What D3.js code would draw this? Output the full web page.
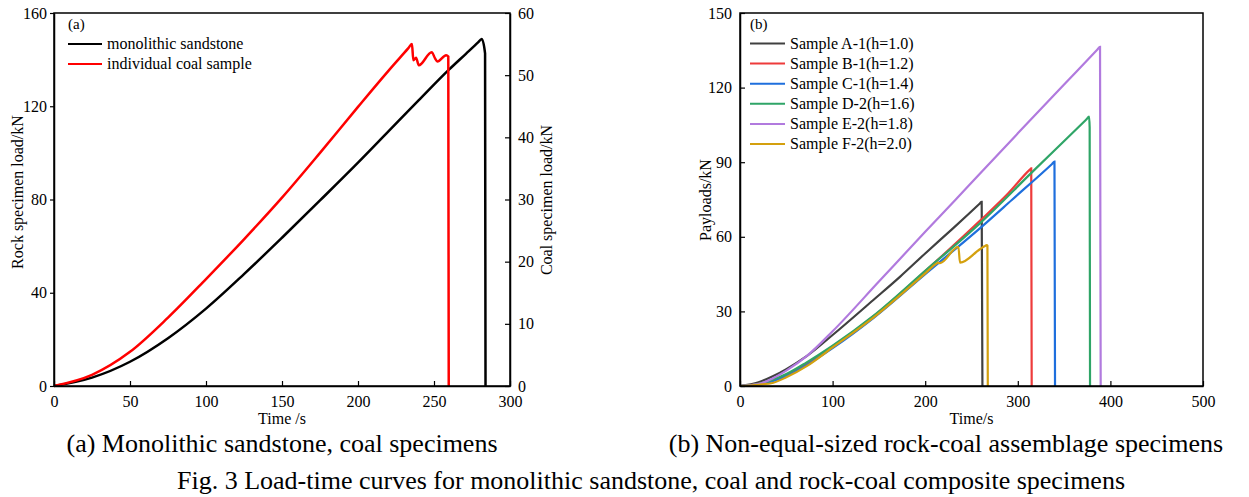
<!DOCTYPE html>
<html>
<head>
<meta charset="utf-8">
<script src="https://cdn.jsdelivr.net/npm/d3@7"></script>
<style>
  body { margin: 0; background: #fff; }
  text { font-family: "Liberation Serif", "Times New Roman", serif; fill: #000; }
</style>
</head>
<body>
<svg id="chart" width="1249" height="497"></svg>
<script>
// ---- data ----

// (a) monolithic sandstone, left axis (kN)
var sandTime = [0, 25, 50, 75, 100, 125, 150, 175, 200, 220, 240, 260, 271, 279, 281.4, 283.6, 283.9];
var sandLoad = [0, 3.6, 10.4, 20.5, 33.2, 48, 63.6, 79.6, 95.8, 109.2, 122.6, 135.8, 142.5, 147.4, 148.9, 142.7, 0];

// (a) individual coal sample, right axis (kN)
var coalTime = [0, 25, 50, 75, 100, 125, 150, 175, 200, 220, 233, 235.5, 236.4, 238.2, 240, 248.5, 250.7, 252.2, 258, 259.4, 259.7];
var coalLoad = [0, 1.8, 5.5, 11, 17.2, 23.6, 30.3, 37.5, 44.9, 50.7, 54.3, 55, 52.4, 52.8, 51.6, 53.7, 52.7, 52.2, 53.2, 53, 0];

// (b) rock-coal assemblages
var sampleNames = ["Sample A-1(h=1.0)", "Sample B-1(h=1.2)", "Sample C-1(h=1.4)",
                   "Sample D-2(h=1.6)", "Sample E-2(h=1.8)", "Sample F-2(h=2.0)"];

var timeA = [0, 20, 36, 50, 72, 100, 144, 173, 200, 230, 259, 261, 261.8];
var loadA = [0, 1.5, 4, 6.8, 12, 20.5, 34.6, 44, 53.3, 63.4, 73.4, 74.1, 0];

var timeB = [0, 20, 36, 50, 72, 100, 144, 200, 259, 290, 313, 314.5, 315];
var loadB = [0, 0.9, 2.4, 4.4, 8.8, 15.8, 28, 46.2, 66.4, 77.6, 87, 87.5, 0];

var timeC = [0, 20, 36, 50, 72, 100, 144, 200, 259, 293.5, 337, 339.6, 340.2];
var loadC = [0, 0.7, 2, 4, 8.4, 15.2, 27.3, 45, 63.4, 74.8, 89.3, 90.2, 0];

var timeD = [0, 20, 36, 50, 72, 100, 144, 200, 259, 316, 374, 377, 377.6, 378];
var loadD = [0, 0.9, 2.6, 4.8, 9.5, 16.2, 28.2, 46.3, 65.4, 86.2, 107.2, 108.3, 104, 0];

var timeE = [0, 20, 36, 50, 72, 100, 150, 200, 232, 259, 300, 350, 386, 388.8, 389.5];
var loadE = [0, 0.8, 3.2, 6.2, 12, 22, 42, 62, 74.6, 85.4, 101.6, 121.2, 135.3, 136.4, 0];

var timeF = [0, 20, 36, 50, 72, 100, 144, 200, 212, 214, 216, 235.8, 237.6, 259, 264, 266.5, 267.2, 267.6];
var loadF = [0, 0.5, 1.3, 3.5, 8, 15.5, 27.5, 45.3, 49.2, 49.6, 49.4, 56, 49.6, 55, 56.2, 56.7, 56.5, 0];

var sampleTimes = [timeA, timeB, timeC, timeD, timeE, timeF];
var sampleLoads = [loadA, loadB, loadC, loadD, loadE, loadF];
var sampleColors = ["#404040", "#ee3b3b", "#1f6fdd", "#2fa567", "#b17ade", "#d4a00e"];

// tick labels
var ticksTimeA = [0, 50, 100, 150, 200, 250, 300];
var ticksRock = [0, 40, 80, 120, 160];
var ticksCoal = [0, 10, 20, 30, 40, 50, 60];
var ticksTimeB = [0, 100, 200, 300, 400, 500];
var ticksPay = [0, 30, 60, 90, 120, 150];

var svg = d3.select("#chart");
svg.append("rect").attr("width", 1249).attr("height", 497).attr("fill", "#fff");

function zip(ts, vs) {
    return ts.map(function(t, i) { return { t: t, v: vs[i] }; });
}

// ================= panel (a) =================
var pa = { left: 54, top: 13, width: 456, height: 373 };
var ga = svg.append("g").attr("transform", "translate(" + pa.left + "," + pa.top + ")");

var xA = d3.scaleLinear().domain([0, 300]).range([0, pa.width]);
var yRock = d3.scaleLinear().domain([0, 160]).range([pa.height, 0]);
var yCoal = d3.scaleLinear().domain([0, 60]).range([pa.height, 0]);

var lineRock = d3.line().curve(d3.curveMonotoneX)
    .x(function(d) { return xA(d.t); })
    .y(function(d) { return yRock(d.v); });
var lineCoal = d3.line().curve(d3.curveMonotoneX)
    .x(function(d) { return xA(d.t); })
    .y(function(d) { return yCoal(d.v); });

ga.append("path")
    .datum(zip(sandTime, sandLoad))
    .attr("d", lineRock)
    .attr("fill", "none")
    .attr("stroke", "#000")
    .attr("stroke-width", 2.5);

ga.append("path")
    .datum(zip(coalTime, coalLoad))
    .attr("d", lineCoal)
    .attr("fill", "none")
    .attr("stroke", "#ff0000")
    .attr("stroke-width", 2.5);

// axes
ga.append("g")
    .attr("transform", "translate(0," + pa.height + ")")
    .call(d3.axisBottom(xA).tickValues(ticksTimeA).tickSize(-5).tickSizeOuter(0).tickPadding(10));
ga.append("g")
    .call(d3.axisLeft(yRock).tickValues(ticksRock).tickSize(4).tickSizeOuter(0).tickPadding(3));
ga.append("g")
    .attr("transform", "translate(" + pa.width + ",0)")
    .call(d3.axisRight(yCoal).tickValues(ticksCoal).tickSize(-5).tickSizeOuter(0).tickPadding(8));

// frame
ga.append("rect")
    .attr("width", pa.width).attr("height", pa.height)
    .attr("fill", "none").attr("stroke", "#000").attr("stroke-width", 1.5);

// axis titles
ga.append("text")
    .attr("x", pa.width / 2).attr("y", pa.height + 38)
    .attr("text-anchor", "middle").style("font-size", "16px")
    .text("Time /s");
svg.append("text")
    .attr("transform", "translate(23," + 192 + ") rotate(-90)")
    .attr("text-anchor", "middle").style("font-size", "16px")
    .text("Rock specimen load/kN");
svg.append("text")
    .attr("transform", "translate(552," + 200 + ") rotate(-90)")
    .attr("text-anchor", "middle").style("font-size", "16px")
    .text("Coal specimen load/kN");

// legend (a)
ga.append("text").attr("x", 14).attr("y", 16).style("font-size", "15px").text("(a)");
var legA = [{ name: "monolithic sandstone", color: "#000" }, { name: "individual coal sample", color: "#ff0000" }];
legA.forEach(function(d, i) {
    var yy = 31 + i * 20;
    ga.append("line").attr("x1", 14).attr("x2", 48).attr("y1", yy).attr("y2", yy)
        .attr("stroke", d.color).attr("stroke-width", 2);
    ga.append("text").attr("x", 53).attr("y", yy + 5).style("font-size", "16px").text(d.name);
});

// ================= panel (b) =================
var pb = { left: 740, top: 13, width: 463, height: 373 };
var gb = svg.append("g").attr("transform", "translate(" + pb.left + "," + pb.top + ")");

var xB = d3.scaleLinear().domain([0, 500]).range([0, pb.width]);
var yB = d3.scaleLinear().domain([0, 150]).range([pb.height, 0]);

var lineB = d3.line().curve(d3.curveMonotoneX)
    .x(function(d) { return xB(d.t); })
    .y(function(d) { return yB(d.v); });

sampleTimes.forEach(function(ts, i) {
    gb.append("path")
        .datum(zip(ts, sampleLoads[i]))
        .attr("d", lineB)
        .attr("fill", "none")
        .attr("stroke", sampleColors[i])
        .attr("stroke-width", 2.2);
});

gb.append("g")
    .attr("transform", "translate(0," + pb.height + ")")
    .call(d3.axisBottom(xB).tickValues(ticksTimeB).tickSize(-5).tickSizeOuter(0).tickPadding(10));
gb.append("g")
    .call(d3.axisLeft(yB).tickValues(ticksPay).tickSize(-5).tickSizeOuter(0).tickPadding(8));

gb.append("rect")
    .attr("width", pb.width).attr("height", pb.height)
    .attr("fill", "none").attr("stroke", "#000").attr("stroke-width", 1.5);

gb.append("text")
    .attr("x", pb.width / 2).attr("y", pb.height + 38)
    .attr("text-anchor", "middle").style("font-size", "16px")
    .text("Time/s");
svg.append("text")
    .attr("transform", "translate(711," + 200 + ") rotate(-90)")
    .attr("text-anchor", "middle").style("font-size", "16px")
    .text("Payloads/kN");

// legend (b)
gb.append("text").attr("x", 10).attr("y", 16).style("font-size", "15px").text("(b)");
sampleNames.forEach(function(name, i) {
    var yy = 30.5 + i * 20.1;
    gb.append("line").attr("x1", 10).attr("x2", 45).attr("y1", yy).attr("y2", yy)
        .attr("stroke", sampleColors[i]).attr("stroke-width", 2);
    gb.append("text").attr("x", 50).attr("y", yy + 5).style("font-size", "16px").text(name);
});

// axis styling
svg.selectAll(".tick text").style("font-size", "16px").attr("fill", "#000");
svg.selectAll(".tick line").attr("stroke", "#000").attr("stroke-width", 1.2);
svg.selectAll(".domain").attr("stroke", "#000").attr("stroke-width", 1.5);

// captions
svg.append("text").attr("x", 282).attr("y", 452).attr("text-anchor", "middle")
    .style("font-size", "26px").text("(a) Monolithic sandstone, coal specimens");
svg.append("text").attr("x", 946).attr("y", 452).attr("text-anchor", "middle")
    .style("font-size", "26px").text("(b) Non-equal-sized rock-coal assemblage specimens");
svg.append("text").attr("x", 651).attr("y", 489).attr("text-anchor", "middle")
    .style("font-size", "26px").text("Fig. 3 Load-time curves for monolithic sandstone, coal and rock-coal composite specimens");
</script>
</body>
</html>
